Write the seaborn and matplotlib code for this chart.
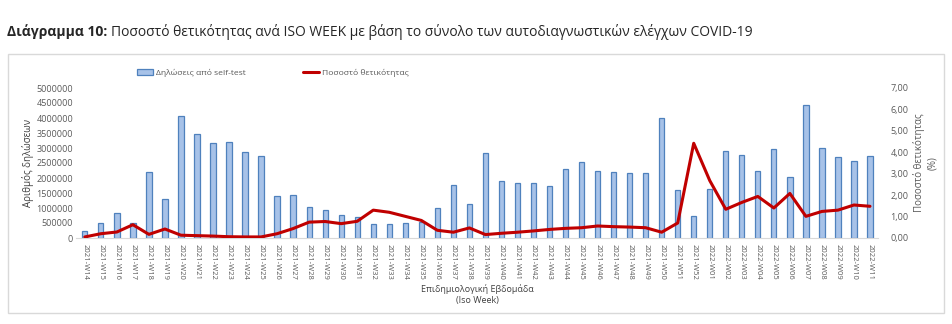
import numpy as np
import pandas as pd
import matplotlib
matplotlib.use("Agg")
import matplotlib.pyplot as plt
from matplotlib.patches import Rectangle, Patch
from matplotlib.lines import Line2D
from matplotlib.ticker import FuncFormatter
import seaborn as sns

weeks = [f"2021-W{w}" for w in range(14, 53)] + [f"2022-W{w:02d}" for w in range(1, 12)]
declarations = [
    240000, 510000, 840000, 510000, 2210000, 1310000, 4070000, 3480000, 3160000, 3200000,
    2860000, 2720000, 1400000, 1430000, 1020000, 920000, 770000, 700000, 480000, 480000,
    510000, 530000, 1000000, 1770000, 1140000, 2850000, 1910000, 1830000, 1830000, 1740000,
    2300000, 2540000, 2220000, 2200000, 2180000, 2180000, 3990000, 1610000, 750000, 1650000,
    2900000, 2780000, 2230000, 2960000, 2050000, 4420000, 3000000, 2700000, 2580000, 2730000,
]
positivity = [
    0.05, 0.20, 0.28, 0.62, 0.17, 0.42, 0.13, 0.11, 0.09, 0.06,
    0.05, 0.05, 0.20, 0.44, 0.74, 0.77, 0.67, 0.78, 1.30, 1.20,
    1.01, 0.82, 0.36, 0.27, 0.47, 0.16, 0.22, 0.27, 0.33, 0.40,
    0.45, 0.48, 0.56, 0.53, 0.51, 0.48, 0.27, 0.70, 4.42, 2.68,
    1.34, 1.66, 1.94, 1.40, 2.08, 1.01, 1.24, 1.30, 1.54, 1.48,
]
bar_label = "Δηλώσεις από self-test"
line_label = "Ποσοστό θετικότητας"

df = pd.DataFrame({"week": weeks, "declarations": declarations, "positivity": positivity})

sns.set_style("white")
plt.rcParams["font.family"] = ["Open Sans", "DejaVu Sans"]

fig = plt.figure(figsize=(9.52, 3.24), dpi=100)
W, H = 952, 324
ax = fig.add_axes([76 / W, 1 - 238 / H, (878 - 76) / W, (238 - 88) / H])

# chart border
fig.patches.append(Rectangle((7.5 / W, 1 - 313 / H), (944 - 7.5) / W, (313 - 54) / H,
                             transform=fig.transFigure, fill=False, edgecolor="#d9d9d9", lw=1))

sns.barplot(data=df, x="week", y="declarations", ax=ax, color="#a7c2e8",
            edgecolor="#4f81bd", linewidth=0.9, width=0.33, saturation=1)
ax.set_ylim(0, 5000000)
ax.set_yticks(np.arange(0, 5000001, 500000))
ax.yaxis.set_major_formatter(FuncFormatter(lambda v, p: f"{int(v)}"))
ax.set_xlim(-0.55, len(weeks) - 0.5)

ax2 = ax.twinx()
sns.lineplot(x=np.arange(len(weeks)), y=df["positivity"], ax=ax2, color="#c00000", lw=2.2, sort=False)
ax2.set_ylim(0, 7)
ax2.set_yticks(np.arange(0, 7.01, 1))
ax2.yaxis.set_major_formatter(FuncFormatter(lambda v, p: f"{v:.2f}".replace(".", ",")))
ax2.set_xlim(-0.55, len(weeks) - 0.5)

for a in (ax, ax2):
    for s in ["top", "left", "right"]:
        a.spines[s].set_visible(False)
    a.spines["bottom"].set_color("#d9d9d9")
    a.tick_params(length=0, colors="#595959", labelsize=6.5)
ax2.spines["bottom"].set_visible(False)

ax.set_xticks(range(len(weeks)))
ax.set_xticklabels(weeks, rotation=270, fontsize=5.5, color="#595959")
ax.tick_params(axis="x", pad=4)
ax.tick_params(axis="y", pad=2)
ax2.tick_params(axis="y", pad=9)

ax.set_ylabel("Αριθμός δηλώσεων", fontsize=7, color="#404040", labelpad=2)
ax.set_xlabel("Επιδημιολογική Εβδομάδα\n(Iso Week)", fontsize=6.5, color="#404040", labelpad=3, linespacing=1.4)
ax2.set_ylabel("Ποσοστό θετικότητας\n(%)", fontsize=7, color="#595959", labelpad=3, rotation=90, linespacing=1.3)

handles = [Patch(facecolor="#a7c2e8", edgecolor="#4f81bd", lw=0.9),
           Line2D([], [], color="#c00000", lw=2.2)]
fig.legend(handles, [bar_label, line_label], loc="center", ncol=2, frameon=False,
           bbox_to_anchor=(273 / W, 1 - 73 / H), fontsize=6.1, columnspacing=6.8,
           handlelength=1.9, handletextpad=0.3, labelcolor="#595959")

t1 = fig.text(7 / W, 1 - 32 / H, "Διάγραμμα 10:", fontsize=10, fontweight="bold", va="center", ha="left")
fig.canvas.draw()
bb = t1.get_window_extent(renderer=fig.canvas.get_renderer())
fig.text(bb.x1 / W + 4 / W, 1 - 32 / H,
         "Ποσοστό θετικότητας ανά ISO WEEK με βάση το σύνολο των αυτοδιαγνωστικών ελέγχων COVID-19",
         fontsize=10, va="center", ha="left")

fig.savefig("out.png", dpi=100)
